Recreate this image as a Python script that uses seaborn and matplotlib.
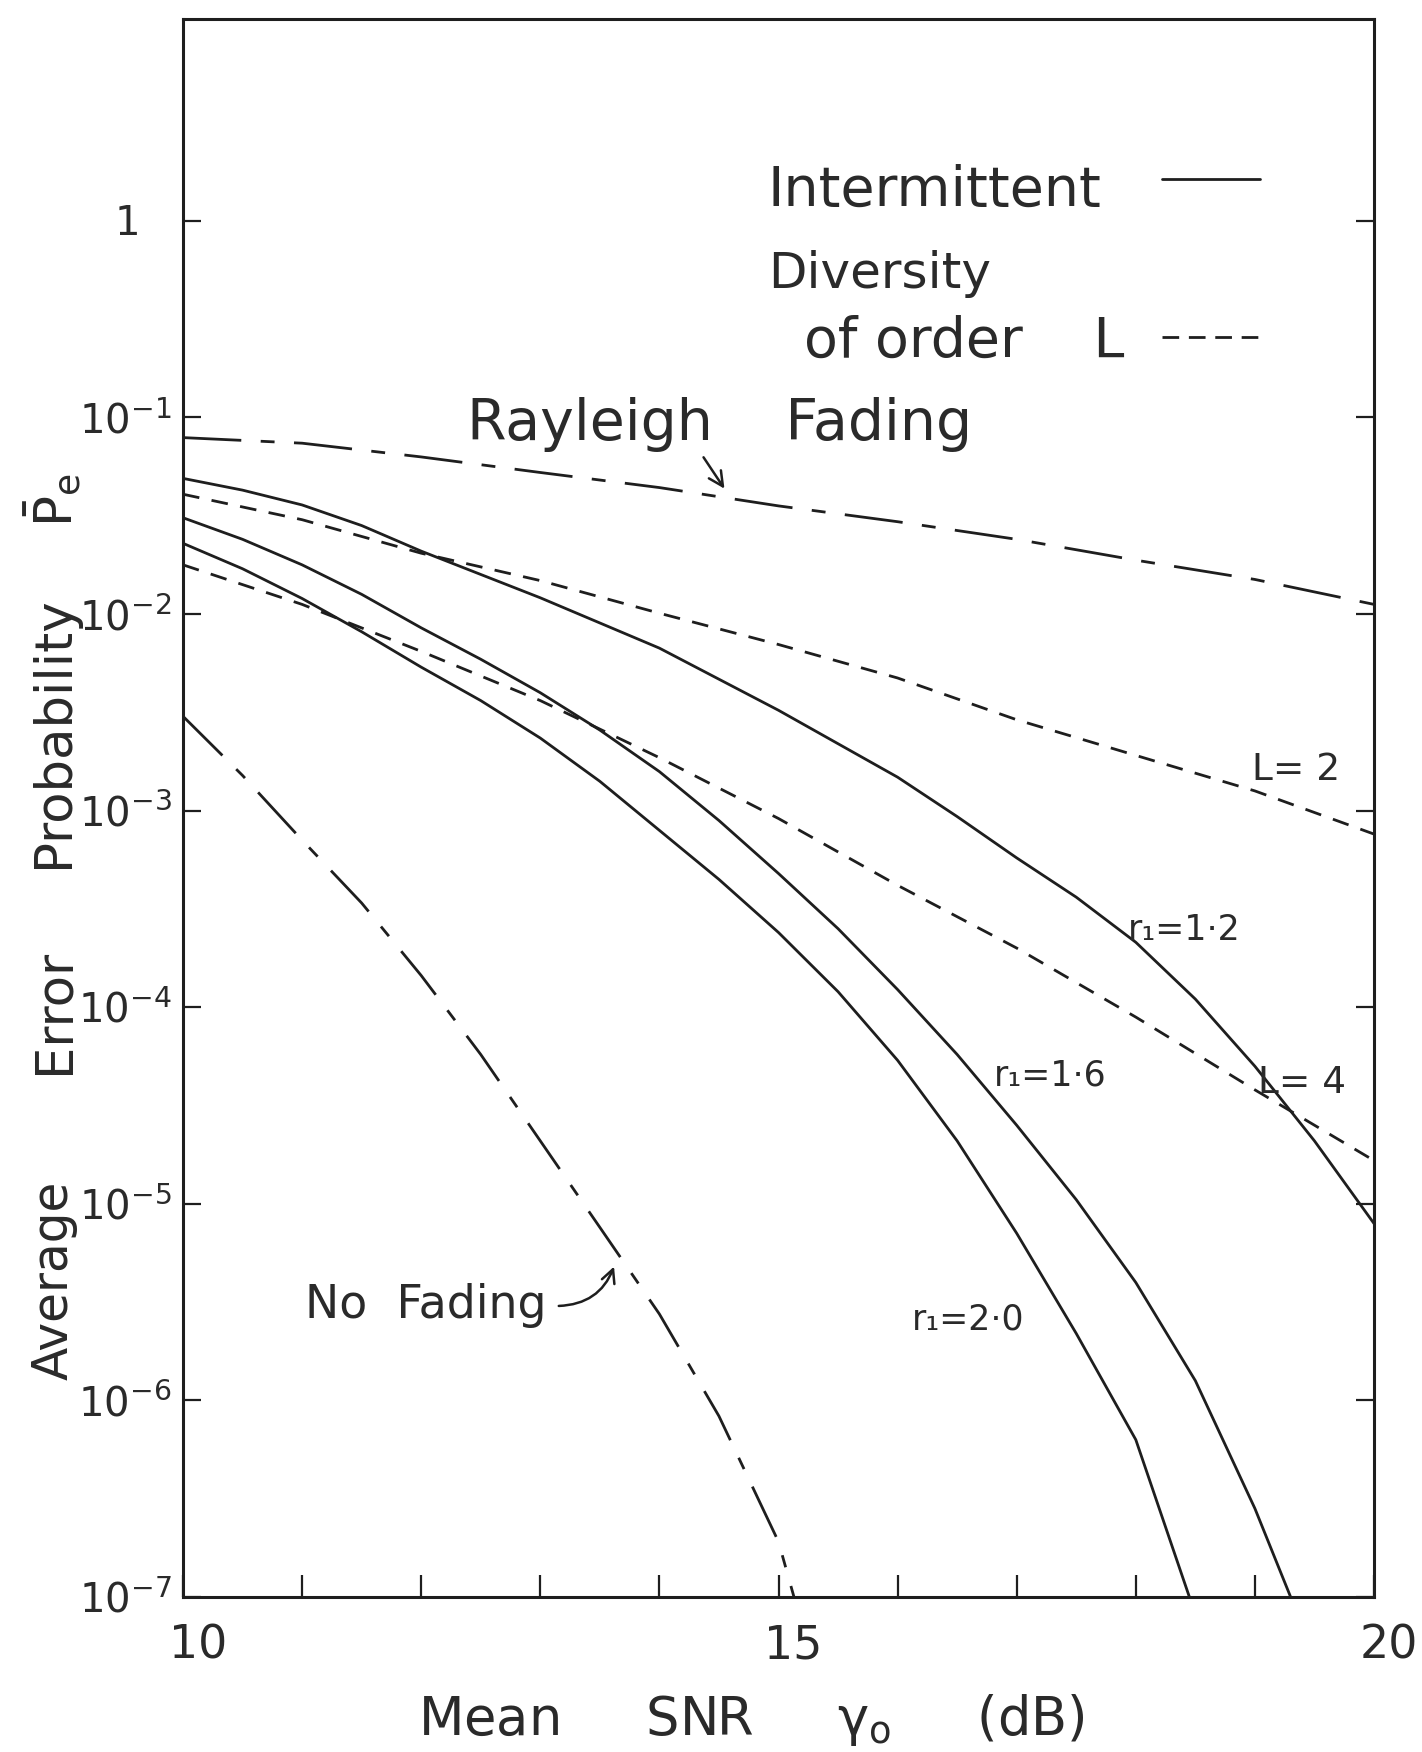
import numpy as np
import matplotlib
matplotlib.use("Agg")
import matplotlib.pyplot as plt
import matplotlib.transforms as mtransforms
import seaborn as sns
from matplotlib.lines import Line2D
from matplotlib.ticker import NullLocator

# ---------------- data ----------------
snr_db = [10, 11, 12, 13, 14, 15, 16, 17, 18, 19, 20]
pe_rayleigh = [7.9e-2, 7.4e-2, 6.3e-2, 5.25e-2, 4.4e-2, 3.55e-2, 2.95e-2, 2.4e-2, 1.88e-2, 1.5e-2, 1.12e-2]
pe_div_L2 = [4.07e-2, 3.02e-2, 2.04e-2, 1.48e-2, 1.01e-2, 7.0e-3, 4.73e-3, 2.9e-3, 1.91e-3, 1.26e-3, 7.6e-4]
pe_div_L4 = [1.78e-2, 1.12e-2, 6.46e-3, 3.63e-3, 1.86e-3, 9.12e-4, 4.17e-4, 2.0e-4, 8.91e-5, 3.8e-5, 1.66e-5]

snr_r12 = [10, 10.5, 11, 11.5, 12, 13, 14, 15, 16, 16.5, 17, 17.5, 18, 18.5, 19, 19.5, 20]
pe_r12 = [4.9e-2, 4.27e-2, 3.59e-2, 2.82e-2, 2.09e-2, 1.21e-2, 6.71e-3, 3.24e-3, 1.48e-3, 9.33e-4,
          5.75e-4, 3.63e-4, 2.14e-4, 1.10e-4, 5.01e-5, 2.09e-5, 7.94e-6]

snr_r16 = [10, 10.5, 11, 11.5, 12, 12.5, 13, 13.5, 14, 14.5, 15, 15.5, 16, 16.5, 17, 17.5, 18, 18.5, 19, 19.3]
pe_r16 = [3.09e-2, 2.40e-2, 1.78e-2, 1.26e-2, 8.51e-3, 5.89e-3, 3.98e-3, 2.57e-3, 1.58e-3, 8.91e-4,
          4.79e-4, 2.51e-4, 1.23e-4, 5.75e-5, 2.51e-5, 1.05e-5, 3.98e-6, 1.26e-6, 2.82e-7, 1.0e-7]

snr_r20 = [10, 10.5, 11, 11.5, 12, 12.5, 13, 13.5, 14, 14.5, 15, 15.5, 16, 16.5, 17, 17.5, 18, 18.45]
pe_r20 = [2.29e-2, 1.70e-2, 1.2e-2, 8.13e-3, 5.37e-3, 3.63e-3, 2.34e-3, 1.41e-3, 7.94e-4, 4.47e-4,
          2.40e-4, 1.20e-4, 5.37e-5, 2.09e-5, 7.08e-6, 2.19e-6, 6.31e-7, 1.0e-7]

snr_nofade = [10, 10.5, 11, 11.5, 12, 12.5, 13, 13.5, 14, 14.5, 15, 15.13]
pe_nofade = [3.02e-3, 1.51e-3, 7.08e-4, 3.39e-4, 1.45e-4, 5.75e-5, 2.09e-5, 7.59e-6, 2.75e-6, 8.32e-7, 1.91e-7, 1.0e-7]

x_ticks = [10, 11, 12, 13, 14, 15, 16, 17, 18, 19, 20]
x_ticklabels = ["10", "", "", "", "", "15", "", "", "", "", "20"]
y_ticks = [1e0, 1e-1, 1e-2, 1e-3, 1e-4, 1e-5, 1e-6, 1e-7]
y_ticklabels = ["", r"$10^{-1}$", r"$10^{-2}$", r"$10^{-3}$", r"$10^{-4}$",
                r"$10^{-5}$", r"$10^{-6}$", r"$10^{-7}$"]

# ---------------- style ----------------
sns.set_style("white")
plt.rcParams["font.family"] = ["DejaVu Sans"]
plt.rcParams["mathtext.default"] = "regular"
plt.rcParams["lines.scale_dashes"] = False
INK = "#1e1e1e"
TXT = "#2a2a2a"

W, H = 1422, 1752
fig = plt.figure(figsize=(W / 100, H / 100), dpi=100)
fig.patch.set_facecolor("white")


def fx(px):
    return px / W


def fy(py):
    return 1 - py / H


ax = fig.add_axes([fx(183), fy(1597), (1374 - 183) / W, (1597 - 19) / H])
ax.set_yscale("log")

series = [
    (snr_db, pe_rayleigh, (42, 14, 10, 14)),
    (snr_db, pe_div_L2, (12, 9)),
    (snr_db, pe_div_L4, (12, 9)),
    (snr_r12, pe_r12, None),
    (snr_r16, pe_r16, None),
    (snr_r20, pe_r20, None),
    (snr_nofade, pe_nofade, (40, 14, 9, 14)),
]
for xs, ys, dash in series:
    sns.lineplot(x=xs, y=ys, ax=ax, color=INK, lw=2.0, estimator=None, sort=False, legend=False)
    line = ax.lines[-1]
    if dash is not None:
        line.set_dashes(dash)

ax.set_xlim(10, 20)
ax.set_ylim(1e-7, 10 ** 1.027)
ax.set_xticks(x_ticks)
ax.set_xticklabels(x_ticklabels)
ax.set_yticks(y_ticks)
ax.set_yticklabels(y_ticklabels)
ax.yaxis.set_minor_locator(NullLocator())
ax.xaxis.set_minor_locator(NullLocator())
ax.tick_params(axis="x", which="major", direction="in", length=16, width=1.6,
               labelsize=33, pad=19, bottom=True, top=False, colors=INK, labelcolor=TXT)
ax.tick_params(axis="y", which="major", direction="in", length=13, width=1.6,
               labelsize=29, pad=8, left=True, right=True, colors=INK, labelcolor=TXT)
for sp in ax.spines.values():
    sp.set_color(INK)
    sp.set_linewidth(2.2)
ax.set_xlabel("")
ax.set_ylabel("")

# x tick labels sit slightly right of their ticks in the reference
shift = mtransforms.ScaledTranslation(0.15, 0, fig.dpi_scale_trans)
for lab in ax.get_xticklabels():
    lab.set_transform(lab.get_transform() + shift)

# "1" label at the top decade
fig.text(fx(127), fy(224), "1", fontsize=29, color=TXT, ha="center", va="center")

# axis titles
fig.text(fx(418), fy(1735), "Mean     SNR     $\\gamma_o$     (dB)", fontsize=38,
         color=TXT, ha="left", va="baseline")
for word, yc, fs in [("Average", 1280, 35), ("Error", 1011, 37), ("Probability", 732, 37),
                     (r"$\bar{P}_e$", 500, 37)]:
    fig.text(fx(54), fy(yc), word, fontsize=fs, color=TXT, rotation=90,
             ha="center", va="center")

# legend block
fig.text(fx(768), fy(206), "Intermittent", fontsize=40, color=TXT, ha="left", va="baseline")
fig.text(fx(768), fy(288), "Diversity", fontsize=36, color=TXT, ha="left", va="baseline")
fig.text(fx(804), fy(357), "of order    L", fontsize=40, color=TXT, ha="left", va="baseline")
fig.add_artist(Line2D([fx(1162), fx(1260)], [fy(179), fy(179)], color=INK, lw=2.0))
l2 = Line2D([fx(1162), fx(1263)], [fy(337), fy(337)], color=INK, lw=2.0)
l2.set_dashes((12, 7))
fig.add_artist(l2)

# curve annotations
fig.text(fx(467), fy(440), "Rayleigh    Fading", fontsize=41, color=TXT, ha="left", va="baseline")
ax.annotate("", xy=(fx(726), fy(491)), xytext=(fx(702), fy(455)),
            xycoords="figure fraction", textcoords="figure fraction",
            arrowprops=dict(arrowstyle="->", lw=1.8, color=INK, mutation_scale=26))
fig.text(fx(305), fy(1318), "No  Fading", fontsize=33, color=TXT, ha="left", va="baseline")
ax.annotate("", xy=(fx(615), fy(1264)), xytext=(fx(556), fy(1306)),
            xycoords="figure fraction", textcoords="figure fraction",
            arrowprops=dict(arrowstyle="->", lw=1.8, color=INK, mutation_scale=24,
                            connectionstyle="arc3,rad=0.35"))
fig.text(fx(1252), fy(780), "L= 2", fontsize=27, color=TXT, ha="left", va="baseline")
fig.text(fx(1258), fy(1093), "L= 4", fontsize=27, color=TXT, ha="left", va="baseline")
fig.text(fx(1128), fy(940), "r\u2081=1\u00b72", fontsize=25, color=TXT, ha="left", va="baseline")
fig.text(fx(994), fy(1086), "r\u2081=1\u00b76", fontsize=25, color=TXT, ha="left", va="baseline")
fig.text(fx(912), fy(1330), "r\u2081=2\u00b70", fontsize=25, color=TXT, ha="left", va="baseline")

fig.savefig("out.png", dpi=100, facecolor="white")
